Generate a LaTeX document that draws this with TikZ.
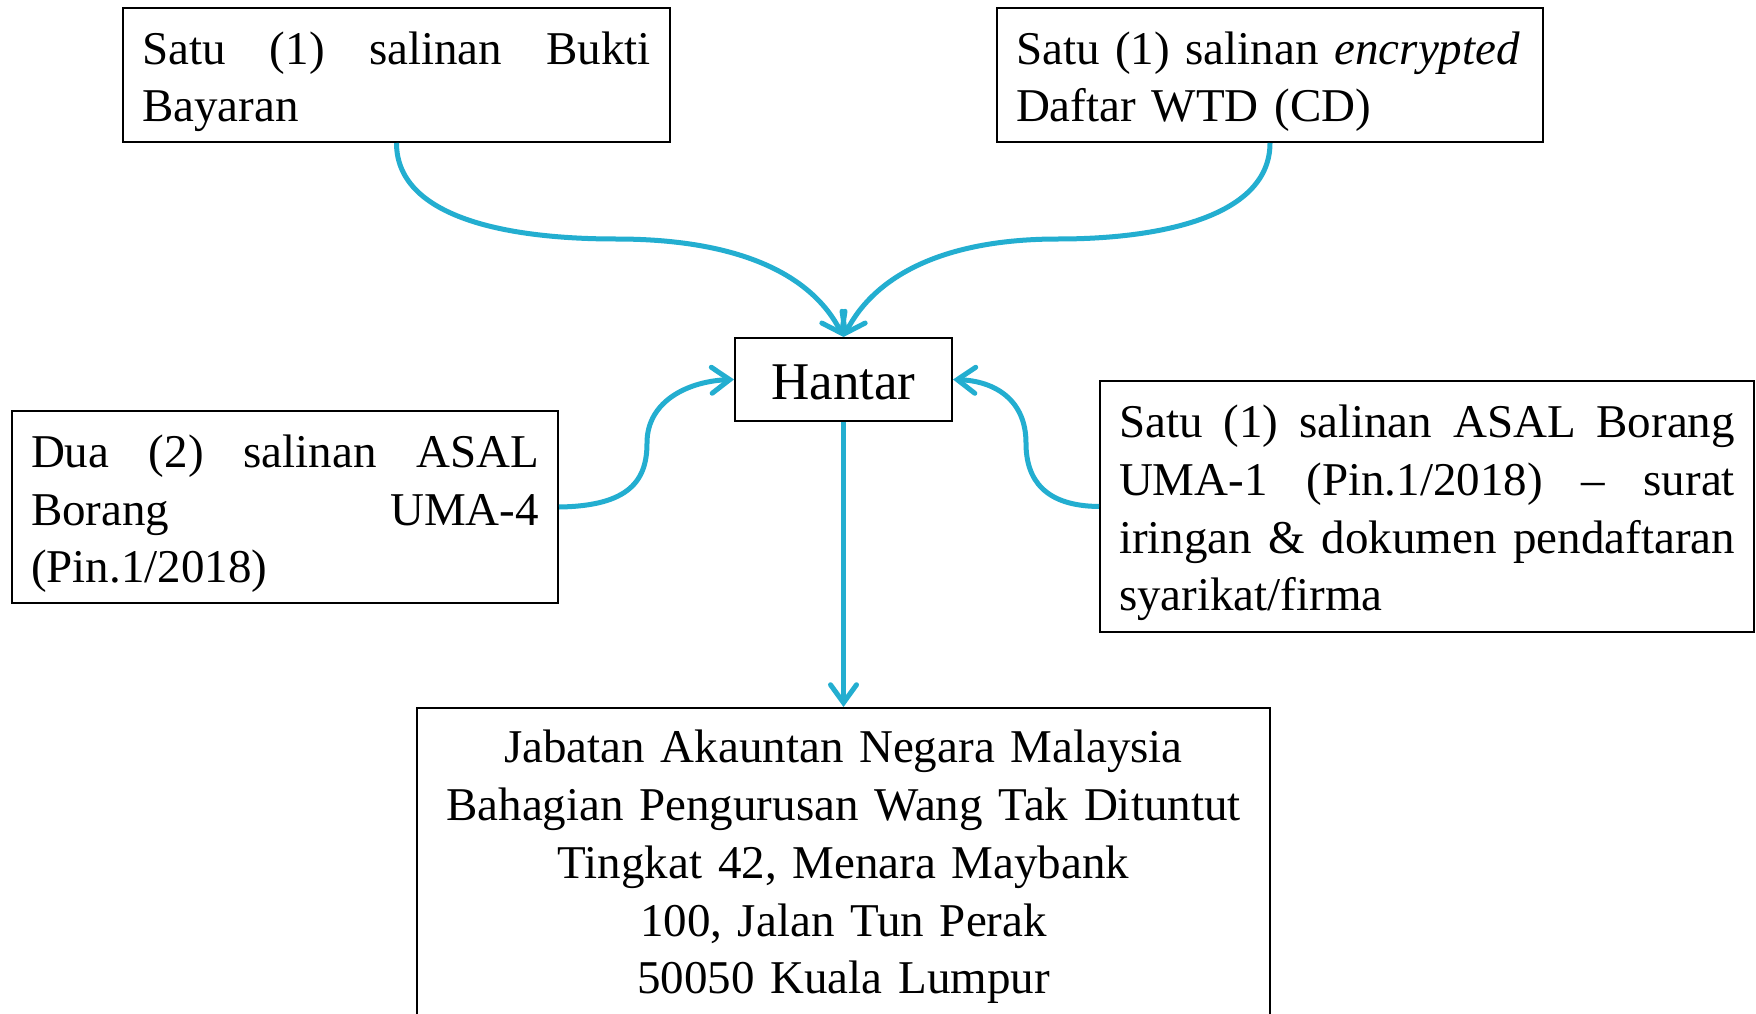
\documentclass[tikz,border=0pt]{standalone}
\usepackage{fontspec}
\setmainfont{Liberation Serif}
\usetikzlibrary{arrows.meta}
\definecolor{conncol}{RGB}{35,174,208}
\newcommand{\jl}[2]{\leavevmode\hbox to #1{#2}}
\newcommand{\tp}{\rule{0pt}{46pt}}
\begin{document}
\begin{tikzpicture}[x=1pt,y=-1pt,
  box/.style={draw=black, line width=2pt, rectangle, inner xsep=19pt, inner ysep=0pt,
    font=\fontsize{47}{57.7}\selectfont, align=left},
  conn/.style={draw=conncol, line width=5pt,
    -{Straight Barb[length=18pt,width=26pt,line width=5pt,line cap=round,line join=miter]}}]
\clip (0,0) rectangle (1756,1014);
\fill[white] (0,0) rectangle (1756,1014);
% boxes
\node[box, minimum width=547pt, minimum height=134pt, text width=509pt] (a) at (396.5,75)
  {\jl{509pt}{\tp Satu\hfill (1)\hfill salinan\hfill Bukti}\\Bayaran};
\node[box, minimum width=546pt, minimum height=134pt, text width=508pt] (b) at (1270,75)
  {\tp Satu (1) salinan \textit{encrypted}\\Daftar WTD (CD)};
\node[box, minimum width=217pt, minimum height=83pt, inner xsep=5pt, align=center,
  font=\fontsize{53}{60}\selectfont] (h) at (843.5,379.5) {\rule{0pt}{40pt}Hantar};
\node[box, minimum width=546pt, minimum height=192pt, text width=508pt] (c) at (285,507)
  {\jl{508pt}{\tp Dua\hfill (2)\hfill salinan\hfill ASAL}\\\jl{508pt}{Borang\hfill UMA-4}\\(Pin.1/2018)};
\node[box, minimum width=654pt, minimum height=251pt, text width=616pt] (d) at (1427,506.5)
  {\jl{616pt}{\tp Satu\hfill (1)\hfill salinan\hfill ASAL\hfill Borang}\\\jl{616pt}{UMA-1\hfill (Pin.1/2018)\hfill –\hfill surat}\\\jl{616pt}{iringan\hfill \&\hfill dokumen\hfill pendaftaran}\\syarikat/firma};
\node[box, anchor=north, minimum width=853pt, minimum height=318pt, text width=815pt, align=center] (e) at (843.5,707)
  {Jabatan Akauntan Negara Malaysia\\Bahagian Pengurusan Wang Tak Dituntut\\Tingkat 42, Menara Maybank\\100, Jalan Tun Perak\\50050 Kuala Lumpur};
% connectors
\draw[conn] (a.south) .. controls (396.5,215) and (500,239) .. (616,239)
  .. controls (740,239) and (812,275) .. (h.north);
\draw[conn] (b.south) .. controls (1270,215) and (1165,239) .. (1058,239)
  .. controls (945,239) and (875,275) .. (h.north);
\draw[conn] (c.east) .. controls (630,506) and (647,480) .. (647,443)
  .. controls (647,400) and (690,381) .. (h.west);
\draw[conn] (d.west) .. controls (1045,506) and (1026,480) .. (1026,443)
  .. controls (1026,400) and (995,381) .. (h.east);
\draw[conn] (h.south) -- (e.north);
\end{tikzpicture}
\end{document}
